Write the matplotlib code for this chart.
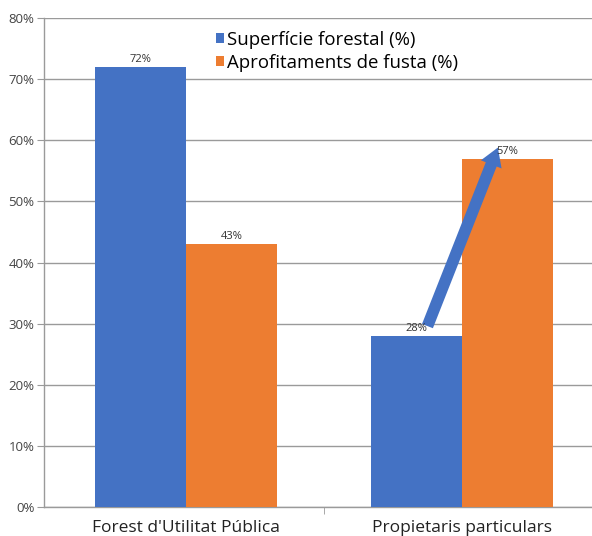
import matplotlib
matplotlib.use("Agg")
import matplotlib.pyplot as plt
import numpy as np
from matplotlib.ticker import FuncFormatter

categories = ["Forest d'Utilitat Pública", "Propietaris particulars"]
series_names = ["Superfície forestal (%)", "Aprofitaments de fusta (%)"]
superficie = [72, 28]
aprofitaments = [43, 57]
yticks = [0, 10, 20, 30, 40, 50, 60, 70, 80]

blue = "#4472C4"
orange = "#ED7D31"

plt.rcParams['font.family'] = ['Open Sans', 'DejaVu Sans']

fig = plt.figure(figsize=(5.92, 5.36), dpi=100)
ax = fig.add_axes([44/592, 29/536, 548/592, 489/536])

x = np.arange(len(categories))
w = 0.33
b1 = ax.bar(x - w/2, superficie, w, color=blue, label=series_names[0], zorder=3)
b2 = ax.bar(x + w/2, aprofitaments, w, color=orange, label=series_names[1], zorder=3)

for i, v in enumerate(superficie):
    ax.text(x[i] - w/2, v + 0.3, f"{v}%", ha='center', va='bottom', fontsize=8, color='#333333', zorder=5)
for i, v in enumerate(aprofitaments):
    ax.text(x[i] + w/2, v + 0.3, f"{v}%", ha='center', va='bottom', fontsize=8, color='#333333', zorder=5)

# arrow from second blue label to second orange label
ax.annotate("", xy=(x[1] + w/2 - 0.035, aprofitaments[1] + 1.8),
            xytext=(x[1] - w/2 + 0.04, superficie[1] + 1.6),
            arrowprops=dict(arrowstyle="simple,head_length=0.65,head_width=0.8,tail_width=0.42",
                            mutation_scale=20, color=blue, lw=0, shrinkA=0, shrinkB=0), zorder=4)

ax.set_xlim(-0.514, 1.471)
ax.set_ylim(0, 80)
ax.set_yticks(yticks)
ax.yaxis.set_major_formatter(FuncFormatter(lambda v, p: f"{int(v)}%"))
ax.yaxis.grid(True, color='#9a9a9a', lw=1.0, zorder=0)
ax.set_axisbelow(True)

ax.set_xticks(x)
ax.set_xticklabels(categories, fontsize=12.5, color='#222222')
ax.set_xticks([0.5], minor=True)
ax.tick_params(axis='x', which='major', length=0, pad=9)
ax.tick_params(axis='x', which='minor', length=5, color='#9a9a9a')
ax.tick_params(axis='y', length=5, color='#9a9a9a', labelsize=9.5, labelcolor='#444444', pad=2)

for s in ['top', 'right']:
    ax.spines[s].set_visible(False)
for s in ['left', 'bottom']:
    ax.spines[s].set_color('#9a9a9a')
    ax.spines[s].set_linewidth(1.0)

leg = ax.legend(loc='upper left', bbox_to_anchor=(0.29, 1.0), frameon=False, fontsize=13.4,
                handlelength=0.45, handleheight=0.45, handletextpad=0.15, labelspacing=0.25,
                borderaxespad=0.3)

fig.savefig("out.png", dpi=100)
